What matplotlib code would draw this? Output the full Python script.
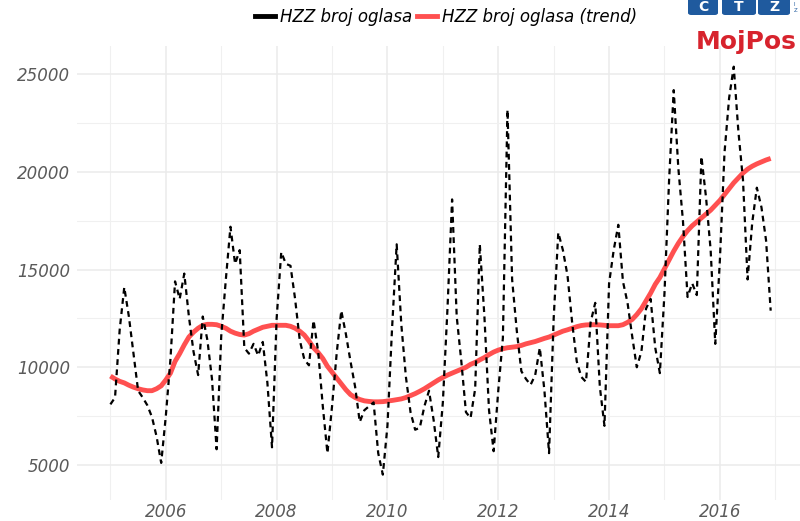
import numpy as np
import matplotlib
matplotlib.use("Agg")
import matplotlib.pyplot as plt
from matplotlib.lines import Line2D
from matplotlib.patches import FancyBboxPatch

# ---- data (monthly, Jan 2005 - Dec 2016) ----
years = list(range(2005, 2017))
ads = {
    2005: [8100, 8450, 11900, 14100, 12600, 10700, 8800, 8450, 8050, 7450, 6450, 5100],
    2006: [7500, 10400, 14400, 13500, 14800, 12600, 10800, 9600, 12600, 11400, 9400, 5800],
    2007: [11600, 14500, 17200, 15300, 16000, 11000, 10700, 11200, 10600, 11300, 9200, 5900],
    2008: [12500, 15900, 15300, 15200, 13500, 11400, 10400, 10100, 12400, 10800, 8000, 5600],
    2009: [8000, 10700, 12900, 11700, 10300, 9000, 7200, 7800, 8000, 8200, 5600, 4500],
    2010: [7000, 12000, 16300, 12200, 9500, 7700, 6800, 6900, 8000, 8800, 7300, 5400],
    2011: [8200, 13000, 18600, 12600, 10300, 7700, 7400, 8900, 16300, 12600, 7800, 5700],
    2012: [8800, 11500, 23200, 14500, 11900, 9800, 9400, 9100, 9600, 11000, 8800, 5600],
    2013: [12500, 16900, 16000, 14700, 12300, 10300, 9500, 9250, 12300, 13300, 9000, 7000],
    2014: [14300, 16000, 17300, 14400, 13300, 11600, 10000, 10800, 13000, 13500, 11000, 9700],
    2015: [13800, 19600, 24200, 20200, 17500, 13600, 14300, 13700, 20800, 18700, 16000, 11200],
    2016: [15500, 21000, 23800, 25400, 22100, 19600, 14500, 17400, 19200, 18200, 16500, 12900],
}
trend = {
    2005: [9550, 9400, 9280, 9200, 9080, 8980, 8900, 8840, 8800, 8800, 8900, 9050],
    2006: [9350, 9700, 10300, 10700, 11150, 11550, 11800, 12000, 12150, 12200, 12200, 12180],
    2007: [12100, 12000, 11850, 11750, 11680, 11650, 11720, 11850, 11950, 12050, 12100, 12150],
    2008: [12150, 12150, 12150, 12100, 12000, 11850, 11650, 11350, 11000, 10750, 10450, 10050],
    2009: [9750, 9450, 9150, 8850, 8600, 8450, 8350, 8280, 8250, 8230, 8230, 8240],
    2010: [8270, 8300, 8340, 8380, 8450, 8550, 8650, 8770, 8900, 9050, 9200, 9350],
    2011: [9480, 9600, 9700, 9800, 9900, 10000, 10150, 10250, 10380, 10500, 10650, 10780],
    2012: [10880, 10950, 11000, 11030, 11060, 11120, 11200, 11260, 11320, 11400, 11480, 11550],
    2013: [11650, 11750, 11850, 11920, 12000, 12080, 12140, 12170, 12180, 12180, 12170, 12150],
    2014: [12130, 12130, 12130, 12180, 12300, 12450, 12700, 13000, 13400, 13800, 14250, 14600],
    2015: [15050, 15500, 15950, 16350, 16700, 17000, 17250, 17450, 17650, 17850, 18050, 18300],
    2016: [18550, 18850, 19150, 19450, 19700, 19950, 20150, 20300, 20420, 20520, 20620, 20700],
}
series_labels = ["HZZ broj oglasa", "HZZ broj oglasa (trend)"]
x_ticks = [2006, 2008, 2010, 2012, 2014, 2016]
y_ticks = [5000, 10000, 15000, 20000, 25000]

t = np.array([y + m / 12 for y in years for m in range(12)])
v = np.array([val for y in years for val in ads[y]])
tr = np.array([val for y in years for val in trend[y]])

# ---- figure ----
W, H = 800, 521
fig = plt.figure(figsize=(W / 100, H / 100), dpi=100)
left, right, top, bottom = 77, 803, 46, 500
ax = fig.add_axes([left / W, 1 - bottom / H, (right - left) / W, (bottom - top) / H])

ax.plot(t, tr, color="#FF5050", lw=3.5, solid_capstyle="butt", zorder=3)
ax.plot(t, v, color="black", lw=1.6, dashes=(2.6, 2.0), zorder=4)

ax.set_xlim(2004.397, 2017.50)
ax.set_ylim(3200, 26460)

ax.set_xticks(x_ticks)
ax.set_xticks([2005, 2007, 2009, 2011, 2013, 2015, 2017], minor=True)
ax.set_yticks(y_ticks)
ax.set_yticks([7500, 12500, 17500, 22500], minor=True)
ax.grid(True, which="major", color="#ebebeb", lw=1.1)
ax.grid(True, which="minor", color="#f0f0f0", lw=0.8)
ax.set_axisbelow(True)
for s in ax.spines.values():
    s.set_visible(False)
ax.tick_params(which="both", length=0)
ax.tick_params(axis="x", pad=2)
ax.tick_params(axis="y", pad=5)
for lab in ax.get_xticklabels() + ax.get_yticklabels():
    lab.set_fontsize(12)
    lab.set_fontstyle("italic")
    lab.set_color("#5a5a5a")
    lab.set_family("DejaVu Sans")

# ---- legend ----
handles = [Line2D([0], [0], color="black", lw=3.5),
           Line2D([0], [0], color="#FF5050", lw=3.5)]
fig.legend(handles, series_labels, loc="center", bbox_to_anchor=(446 / W, 1 - 17 / H),
           ncol=2, frameon=False, handlelength=1.2, handletextpad=0.3,
           columnspacing=0.3, prop={"family": "DejaVu Sans", "style": "italic", "size": 12})

# ---- logo (top right) ----
blue = "#1F5A9E"
for bx0, bx1, letter in [(688, 718, "C"), (722, 756, "T"), (758, 790, "Z")]:
    p = FancyBboxPatch((bx0 / W, 1 - 15 / H), (bx1 - bx0) / W, 21 / H,
                       boxstyle="round,pad=0,rounding_size=0.004",
                       transform=fig.transFigure, facecolor=blue, edgecolor="none",
                       clip_on=False)
    fig.patches.append(p)
    fig.text((bx0 + bx1) / 2 / W, 1 - 7 / H, letter, color="white", fontsize=10,
             fontweight="bold", ha="center", va="center", family="DejaVu Sans")
fig.text(794 / W, 1 - 5 / H, "I", color=blue, fontsize=4, ha="left", va="center")
fig.text(794 / W, 1 - 11 / H, "Z", color=blue, fontsize=4, ha="left", va="center")
fig.text(797 / W, 1 - 42 / H, "MojPos", color="#D7232D", fontsize=18,
         fontweight="bold", ha="right", va="center", family="Liberation Sans Narrow")

fig.savefig("out.png", dpi=100)
